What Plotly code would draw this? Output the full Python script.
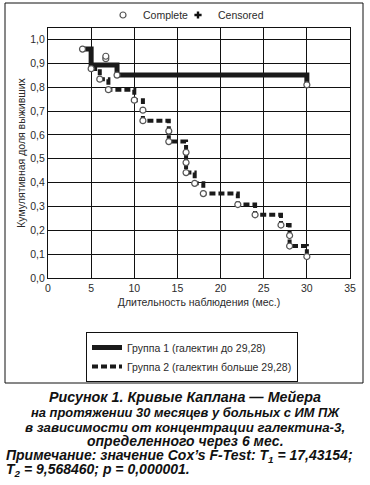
import plotly.graph_objects as go

# ---- data ----
g1_t = [4, 5, 5, 8, 8, 30, 30]
g1_s = [0.96, 0.96, 0.893, 0.893, 0.851, 0.851, 0.81]
g2_t = [5, 6, 6, 7, 7, 10, 10, 11, 11, 14, 14, 16, 16, 17, 17, 18, 18, 22, 22, 24, 24, 27, 27, 28, 28, 30, 30]
g2_s = [0.877, 0.877, 0.834, 0.834, 0.79, 0.79, 0.746, 0.746, 0.66, 0.66, 0.572, 0.572, 0.442, 0.442,
        0.397, 0.397, 0.354, 0.354, 0.308, 0.308, 0.265, 0.265, 0.222, 0.222, 0.134, 0.134, 0.09]
c1_t = [4, 5, 6.7, 6.7, 8, 30]
c1_s = [0.96, 0.878, 0.92, 0.93, 0.851, 0.81]
c2_t = [6, 7, 10, 11, 11, 14, 14, 16, 16, 16, 17, 18, 22, 24, 27, 28, 28, 30]
c2_s = [0.834, 0.79, 0.746, 0.704, 0.66, 0.616, 0.572, 0.527, 0.484, 0.442, 0.397, 0.354, 0.308, 0.265,
        0.222, 0.178, 0.134, 0.09]
cens_t = [None]
cens_s = [None]

x_ticks = [0, 5, 10, 15, 20, 25, 30, 35]
y_ticks = [0.0, 0.1, 0.2, 0.3, 0.4, 0.5, 0.6, 0.7, 0.8, 0.9, 1.0]
y_ticktext = ["0,0", "0,1", "0,2", "0,3", "0,4", "0,5", "0,6", "0,7", "0,8", "0,9", "1,0"]

name_g1 = "Группа 1 (галектин до 29,28)"
name_g2 = "Группа 2 (галектин больше 29,28)"

caption = [
    ("Рисунок 1. Кривые Каплана — Мейера", "center", 14.3),
    ("на протяжении 30 месяцев у больных с ИМ ПЖ", "center", 12.9),
    ("в зависимости от концентрации галектина-3,", "center", 13.3),
    ("определенного через 6 мес.", "center", 14),
    ("Примечание: значение Cox’s F-Test: T<sub>1</sub> = 17,43154;", "left", 14),
    ("T<sub>2</sub> = 9,568460; p = 0,000001.", "left", 14),
]

# ---- layout geometry ----
W, H = 370, 485
L, R, T, B = 48, 20, 28, 207
PW, PH = W - L - R, H - T - B


def px(x):
    return (x - L) / PW


def py(y):
    return (H - B - y) / PH


FONT = "Liberation Sans, Arial, sans-serif"
TXT = "#2b2b2b"

fig = go.Figure()
fig.add_trace(go.Scatter(x=g1_t, y=g1_s, mode="lines", name=name_g1, legend="legend2",
                         line=dict(color="#1a1a1a", width=5)))
fig.add_trace(go.Scatter(x=g2_t, y=g2_s, mode="lines", name=name_g2, legend="legend2",
                         line=dict(color="#1a1a1a", width=4, dash="6px,3px")))
fig.add_trace(go.Scatter(x=c1_t, y=c1_s, mode="markers", name="Complete", legend="legend",
                         marker=dict(symbol="circle", size=6, color="white",
                                     line=dict(color="#555", width=1.2))))
fig.add_trace(go.Scatter(x=c2_t, y=c2_s, mode="markers", name="Complete", legend="legend",
                         showlegend=False,
                         marker=dict(symbol="circle", size=6, color="white",
                                     line=dict(color="#555", width=1.2))))
fig.add_trace(go.Scatter(x=cens_t, y=cens_s, mode="markers", name="Censored", legend="legend3",
                         marker=dict(symbol="cross", size=6, color="#111")))

annotations = []
cap_y = [397, 412, 427, 441, 456, 470]
for (txt, al, fs), yy in zip(caption, cap_y):
    if al == "center":
        annotations.append(dict(text="<b><i>" + txt + "</i></b>", x=px(185), y=py(yy),
                                xref="paper", yref="paper", xanchor="center", yanchor="middle",
                                showarrow=False, font=dict(size=fs, color="#111", family=FONT)))
    else:
        annotations.append(dict(text="<b><i>" + txt + "</i></b>", x=px(4), y=py(yy),
                                xref="paper", yref="paper", xanchor="left", yanchor="middle",
                                showarrow=False, font=dict(size=fs, color="#111", family=FONT)))

fig.update_layout(
    width=W, height=H,
    margin=dict(l=L, r=R, t=T, b=B, autoexpand=False),
    paper_bgcolor="white", plot_bgcolor="white",
    font=dict(family=FONT, size=10.5, color=TXT),
    xaxis=dict(range=[0, 35], tickvals=x_ticks, ticktext=[str(v) for v in x_ticks],
               showgrid=True, gridcolor="#111", gridwidth=1, zeroline=False,
               showline=True, linecolor="#111", linewidth=1, mirror=True, ticks="",
               automargin=False,
               title=dict(text="Длительность наблюдения (мес.)", standoff=6,
                          font=dict(size=10.5, color=TXT)),
               fixedrange=True),
    yaxis=dict(range=[0, 1.0485], tickvals=y_ticks, ticktext=y_ticktext,
               showgrid=True, gridcolor="#111", gridwidth=1, zeroline=False,
               showline=True, linecolor="#111", linewidth=1, mirror=True, ticks="",
               automargin=False,
               title=dict(text="Кумулятивная доля выживших", standoff=2,
                          font=dict(size=10.5, color=TXT)),
               fixedrange=True),
    legend=dict(orientation="h", x=px(103), y=py(15), xanchor="left", yanchor="middle",
                font=dict(size=10.5, color=TXT), itemwidth=30,
                bgcolor="rgba(0,0,0,0)"),
    legend3=dict(orientation="h", x=px(178), y=py(15), xanchor="left", yanchor="middle",
                 font=dict(size=10.5, color=TXT), itemwidth=30,
                 bgcolor="rgba(0,0,0,0)"),
    legend2=dict(orientation="v", x=px(86), y=py(332), xanchor="left", yanchor="top",
                 font=dict(size=10.5, color=TXT), itemwidth=30, bordercolor="#111",
                 borderwidth=1, bgcolor="white"),
    shapes=[dict(type="rect", xref="paper", yref="paper", x0=px(5), x1=px(363),
                 y0=py(383), y1=py(3), line=dict(color="#111", width=1), layer="below")],
    annotations=annotations,
)

fig.write_html("out.html", config={"displayModeBar": False},
               post_script="document.body.style.margin='0';")
